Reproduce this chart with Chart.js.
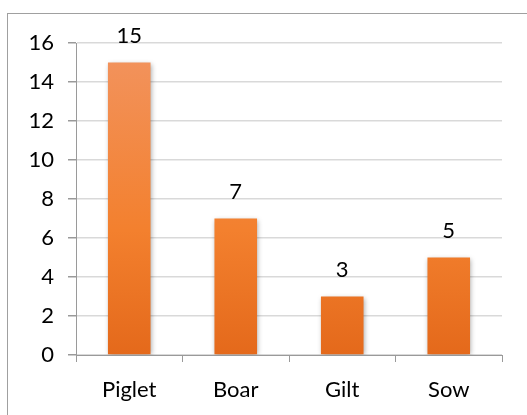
<!DOCTYPE html>
<html lang="en">
<head>
  <meta charset="UTF-8">
  <title>Pig categories</title>
  <script src="https://cdn.jsdelivr.net/npm/chart.js"></script>
  <style>
    html, body { margin: 0; padding: 0; background: #fff; overflow: hidden; }
    .wrap { position: relative; width: 527px; height: 415px; }
    .frame { position: absolute; left: 7px; top: 13px; width: 600px; height: 600px; border: 1px solid #a0a0a0; box-sizing: border-box; }
    canvas { position: absolute; left: 0; top: 0; }
  </style>
</head>
<body>
<div class="wrap">
  <div class="frame"></div>
  <canvas id="chart" width="527" height="415"></canvas>
</div>
<script>
  const categories = ['Piglet', 'Boar', 'Gilt', 'Sow'];
  const counts = [15, 7, 3, 5];
  const yTicks = [0, 2, 4, 6, 8, 10, 12, 14, 16];

  const fontFamily = "Lato, sans-serif";

  // labels above each bar
  const valueLabels = {
    id: 'valueLabels',
    afterDatasetsDraw(chart) {
      const ctx = chart.ctx;
      const meta = chart.getDatasetMeta(0);
      ctx.save();
      ctx.fillStyle = '#000';
      ctx.font = '22px ' + fontFamily;
      ctx.textAlign = 'center';
      ctx.textBaseline = 'bottom';
      meta.data.forEach((bar, i) => {
        ctx.fillText(counts[i], bar.x, bar.y - 16);
      });
      ctx.restore();
    }
  };

  // soft shadow behind the bars
  const barShadow = {
    id: 'barShadow',
    beforeDatasetDraw(chart) {
      const ctx = chart.ctx;
      ctx.save();
      ctx.shadowColor = 'rgba(0,0,0,0.35)';
      ctx.shadowBlur = 5;
      ctx.shadowOffsetX = 1;
      ctx.shadowOffsetY = 1;
    },
    afterDatasetDraw(chart) {
      chart.ctx.restore();
    }
  };

  function barGradient(context) {
    const area = context.chart.chartArea;
    if (!area) return '#f07f35';
    const g = context.chart.ctx.createLinearGradient(0, area.top, 0, area.bottom);
    g.addColorStop(0, '#f29460');
    g.addColorStop(0.6, '#f3802e');
    g.addColorStop(1, '#e4691b');
    return g;
  }

  new Chart(document.getElementById('chart'), {
    type: 'bar',
    data: {
      labels: categories,
      datasets: [{
        data: counts,
        backgroundColor: barGradient,
        borderWidth: 0,
        barPercentage: 0.8,
        categoryPercentage: 0.5
      }]
    },
    options: {
      responsive: false,
      animation: false,
      layout: { padding: { left: 0, top: 43, right: 25, bottom: 0 } },
      plugins: { legend: { display: false }, tooltip: { enabled: false } },
      scales: {
        x: {
          grid: { display: true, drawOnChartArea: false, offset: true, tickLength: 7, color: '#9a9a9a' },
          border: { color: '#9a9a9a', width: 1 },
          ticks: { color: '#000', font: { family: fontFamily, size: 22 }, padding: 15 },
          afterFit(scale) { scale.height = 60; }
        },
        y: {
          min: 0,
          max: 16,
          afterBuildTicks(scale) { scale.ticks = yTicks.map(v => ({ value: v })); },
          grid: { color: '#d9d9d9', lineWidth: 1.5, tickLength: 8, tickColor: '#9a9a9a' },
          border: { color: '#9a9a9a', width: 1 },
          ticks: { color: '#000', font: { family: fontFamily, size: 22 }, padding: 14 },
          afterFit(scale) { scale.width = 76; }
        }
      }
    },
    plugins: [barShadow, valueLabels]
  });
</script>
</body>
</html>
